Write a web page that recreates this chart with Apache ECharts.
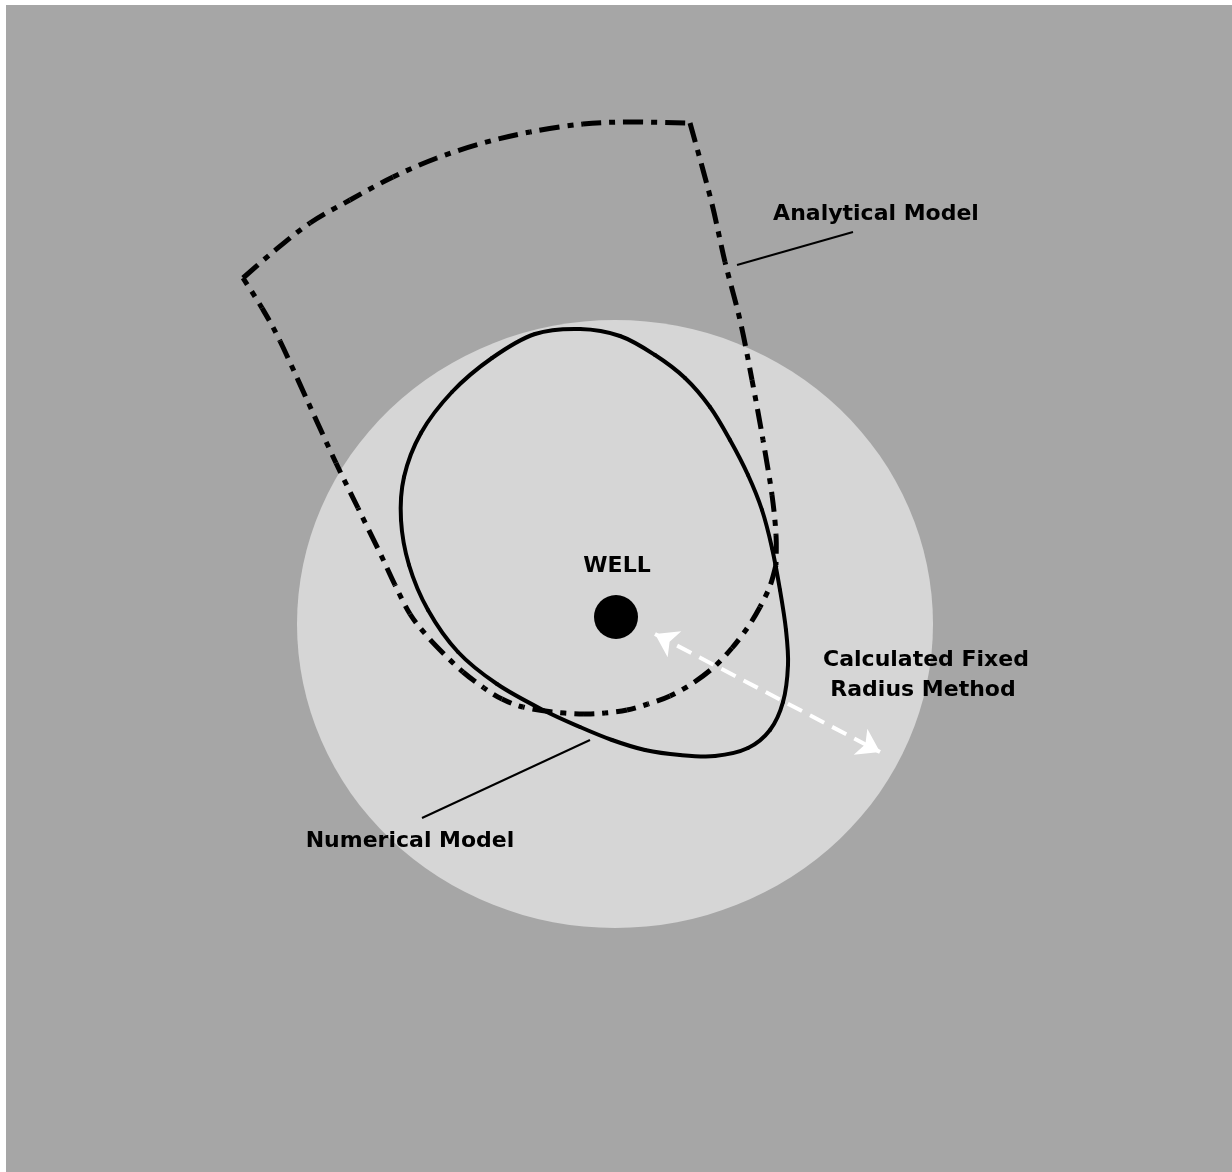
<!DOCTYPE html>
<html><head><meta charset="utf-8">
<script src="https://cdn.jsdelivr.net/npm/echarts@6/dist/echarts.min.js"></script>
<style>html,body{margin:0;padding:0;background:#fff}#c{width:1232px;height:1172px}</style>
</head><body><div id="c"></div>
<script>
// Diagram coordinates (x right, y down)
const fixedRadiusCircle = [[615, 624]];
const wellPoint = [[616, 617]];
const analyticalTop = [[243,278],[273,252],[310,223],[350,200],[393,177],[437,158],[483,143],[530,132],[583,124],[630,122],[690,123]];
const analyticalRight = [[690,123],[711,200],[725,262],[740,320],[752,380],[763,440],[772,495],[776,535],[776,565]];
const analyticalBottom = [[776,565],[770,586],[760,607],[748,627],[732,648],[714,667],[693,683],[670,696],[648,704],[627,710],[605,713],[584,714],[553,712],[523,707],[502,699],[484,688],[463,672],[445,655],[427,636],[410,614],[395,585],[380,553],[358,508],[336,463],[308,402],[280,341],[262,308],[243,278]];
const numericalModel = [[580,329],[620,336],[655,355],[685,378],[710,407],[730,440],[748,475],[762,510],[772,548],[780,590],[786,630],[788,665],[783,702],[770,730],[748,748],[715,756],[680,755],[645,750],[612,740],[580,727],[543,710],[497,684],[458,652],[428,610],[409,565],[401,520],[404,477],[421,433],[452,392],[492,358],[535,334]];
const radiusArrow = [[655,634],[880,752]];
const analyticalLeader = [[737,265],[853,232]];
const numericalLeader = [[422,818],[590,740]];
const labels = [
  {name:'Analytical Model', value:[876,214]},
  {name:'WELL', value:[617,566]},
  {name:'Calculated Fixed', value:[926,660]},
  {name:'Radius Method', value:[923,690]},
  {name:'Numerical Model', value:[410,841]}
];

const dashDot = [20,8,6,8];

// Smooth curve through traced points (Catmull-Rom drawn as bezier segments)
function curveSeries(pts, closed, lineStyle){
  const n = pts.length;
  const get = i => closed ? pts[(i+n)%n] : pts[Math.max(0,Math.min(n-1,i))];
  return {
    type:'custom', coordinateSystem:'cartesian2d', data:pts, z:3, silent:true,
    renderItem:function(params, api){
      const i = params.dataIndex;
      if(!closed && i >= n-1) return null;
      const P = [get(i-1),get(i),get(i+1),get(i+2)].map(p=>api.coord(p));
      let off = 0;
      for(let k=0;k<i;k++){
        const a=api.coord(get(k)), b=api.coord(get(k+1));
        off += Math.hypot(b[0]-a[0], b[1]-a[1]);
      }
      return {
        type:'bezierCurve',
        shape:{x1:P[1][0],y1:P[1][1],x2:P[2][0],y2:P[2][1],
          cpx1:P[1][0]+(P[2][0]-P[0][0])/6, cpy1:P[1][1]+(P[2][1]-P[0][1])/6,
          cpx2:P[2][0]-(P[3][0]-P[1][0])/6, cpy2:P[2][1]-(P[3][1]-P[1][1])/6},
        style:Object.assign({fill:null, lineCap:'butt', lineDashOffset:off}, lineStyle)
      };
    }
  };
}

const chart = echarts.init(document.getElementById('c'));
chart.setOption({
  backgroundColor:'#ffffff',
  animation:false,
  grid:{left:6,top:5,right:0,bottom:0,show:true,backgroundColor:'#a6a6a6',borderWidth:0},
  xAxis:{type:'value',min:6,max:1232,show:false},
  yAxis:{type:'value',min:5,max:1172,inverse:true,show:false},
  series:[
    {type:'scatter',data:fixedRadiusCircle,symbol:'circle',symbolSize:[636,608],itemStyle:{color:'#d6d6d6',opacity:1},silent:true,z:1},
    curveSeries(analyticalTop,false,{stroke:'#000',lineWidth:5,lineDash:dashDot}),
    curveSeries(analyticalRight,false,{stroke:'#000',lineWidth:5,lineDash:dashDot}),
    curveSeries(analyticalBottom,false,{stroke:'#000',lineWidth:5,lineDash:dashDot}),
    curveSeries(numericalModel,true,{stroke:'#000',lineWidth:4,lineCap:'round'}),
    {type:'line',data:analyticalLeader,symbol:'none',lineStyle:{color:'#000',width:2},z:3},
    {type:'line',data:numericalLeader,symbol:'none',lineStyle:{color:'#000',width:2},z:3},
    {type:'lines',coordinateSystem:'cartesian2d',data:[{coords:radiusArrow}],symbol:['arrow','arrow'],symbolSize:22,
      lineStyle:{color:'#ffffff',width:4,type:[16,9],opacity:1},z:4},
    {type:'scatter',data:wellPoint,symbolSize:44,itemStyle:{color:'#000',opacity:1},z:5},
    {type:'scatter',data:labels,symbolSize:0,z:6,itemStyle:{opacity:1},
      label:{show:true,position:'inside',formatter:p=>p.name,color:'#000',fontFamily:'DejaVu Sans',fontWeight:'bold',fontSize:22}}
  ]
});
</script></body></html>
